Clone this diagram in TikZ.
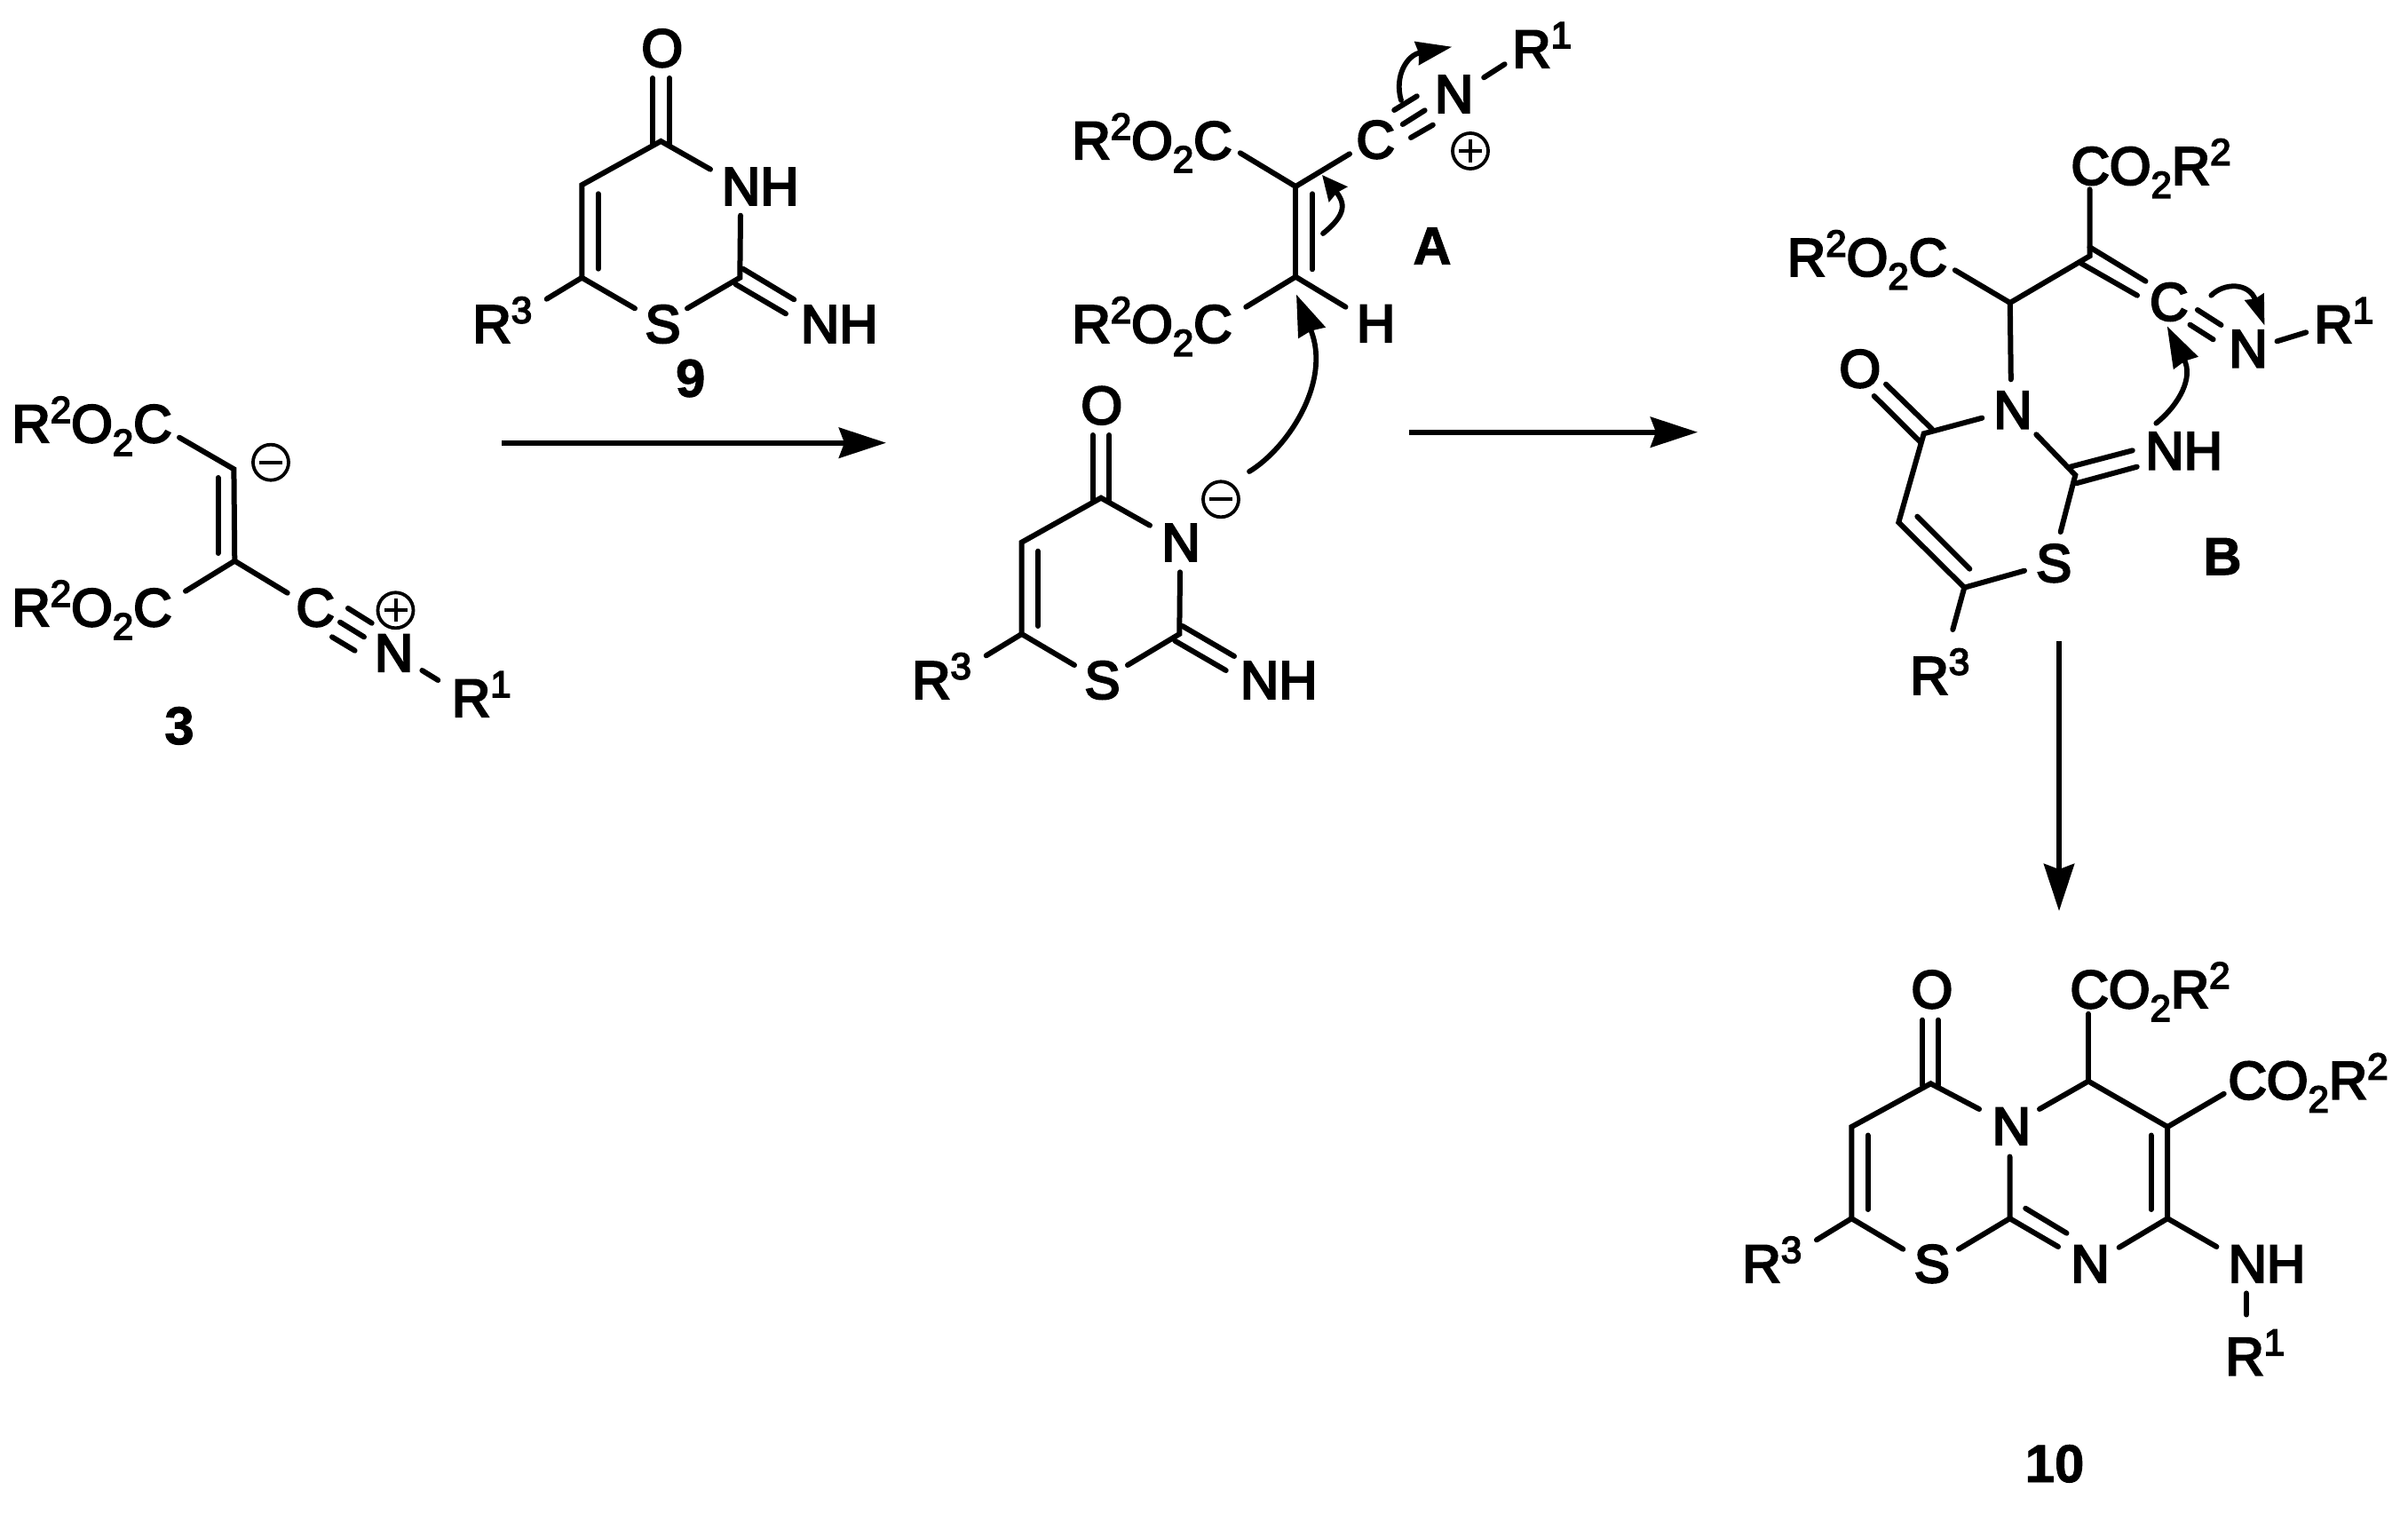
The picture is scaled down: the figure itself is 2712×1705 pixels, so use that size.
\documentclass[tikz,border=0pt]{standalone}
\usepackage{fontspec}
\usetikzlibrary{arrows.meta}
\setmainfont{Liberation Sans}
\newfontfamily\chemfont[FakeBold=4]{Liberation Sans}
\newfontfamily\chemboldfont[FakeBold=1.5]{Liberation Sans Bold}
\newcommand\supx[1]{\raisebox{22pt}{\fontsize{42}{42}\selectfont #1}}
\newcommand\subx[1]{\raisebox{-15pt}{\fontsize{42}{42}\selectfont #1}}
\newcommand\estL{R\supx{2}O\subx{2}C}
\newcommand\estR{CO\subx{2}R\supx{2}}
\tikzset{
  x=1pt,y=-1pt,
  lbl/.style={inner sep=0pt,outer sep=0pt,anchor=base west,xshift=1.5pt,font=\chemfont\fontsize{60}{60}\selectfont},
  lblc/.style={lbl,anchor=base,xshift=0pt},
  num/.style={inner sep=0pt,outer sep=0pt,anchor=base,font=\chemboldfont\fontsize{60}{60}\selectfont},
  bond/.style={draw=black,line width=6pt,line cap=round,line join=miter},
  rxn/.style={draw=black,line width=6.4pt,-{Stealth[length=53pt,width=34pt,inset=6pt]}},
  curly/.style n args={2}{draw=black,line width=5.8pt,line cap=round,-{Stealth[length=#1pt,width=#2pt,inset=2pt]}},
  chargering/.style={circle,draw=black,line width=3.8pt,minimum size=40pt,inner sep=0pt},
  pics/chargeminus/.style={code={
    \node[chargering] (-ring) at (0,0) {};
    \draw[line width=4pt] (-13,0) -- (13,0);}},
  pics/chargeplus/.style={code={
    \node[chargering] (-ring) at (0,0) {};
    \draw[line width=4pt] (-13,0) -- (13,0) (0,-13) -- (0,13);}},
}
\begin{document}
\begin{tikzpicture}
\path[fill=white,use as bounding box] (0,0) rectangle (2712,1705);

% ---- compound 3
\node[lbl] (t3a) at (12,498) {\estL};
\node[lbl] (t3b) at (12,705) {\estL};
\node[lbl] (t3c) at (332,705) {C};
\node[lbl] (t3n) at (420.5,756) {N};
\node[lbl] (t3r) at (507.5,807) {R\supx{1}};
\node[num] (n3) at (202,838) {3};
\coordinate (c3a) at (263.4,528.3);
\coordinate (c3b) at (264.3,631.7);
\draw[bond] (202,492.7) -- (c3a) -- (c3b) -- (209,665.7);
\draw[bond] (c3b) -- (323.7,667.7);
\draw[bond] (245.5,538) -- (245.5,623);
\draw[bond] (392,685) -- (418.7,701.7) (383,700.7) -- (410,717.3) (374,717.3) -- (399.6,732.7);
\draw[bond] (475.4,755) -- (493.3,766);
\pic (m3) at (305,520.7) {chargeminus};
\pic (p3) at (445.5,687.3) {chargeplus};

% ---- arrow 1
\coordinate (a1s) at (565,498.7);
\coordinate (a1e) at (998,498.7);
\draw[rxn] (a1s) -- (a1e);

% ---- compound 9
\node[lblc] (t9o) at (744.3,75) {O};
\node[lbl] (t9nh) at (811.5,230.7) {NH};
\node[lbl] (t9nh2) at (900.5,385.7) {NH};
\node[lblc] (t9s) at (745,385.7) {S};
\node[lbl] (t9r) at (531,385.7) {R\supx{3}};
\node[num] (n9) at (777.7,446.7) {9};
\coordinate (c94) at (744.3,159);
\coordinate (c95) at (655.3,208.3);
\coordinate (c96) at (655.3,312.7);
\coordinate (c92) at (833.3,312.7);
\draw[bond] (800,190.7) -- (c94) -- (c95) -- (c96) -- (715,347.3);
\draw[bond] (c96) -- (615.7,336.7);
\draw[bond] (774,347.3) -- (c92) -- (834,242.7);
\draw[bond] (735,88) -- (735,162) (754,88) -- (754,163);
\draw[bond] (673.7,218.3) -- (673.7,302.7);
\draw[bond] (836.7,302.7) -- (894.3,337.3) (828.3,320) -- (885,353.3);

% ---- cation A
\node[lbl] (tAa) at (1206,179) {\estL};
\node[lbl] (tAb) at (1206,385.7) {\estL};
\node[lbl] (tAc) at (1526,178) {C};
\node[lbl] (tAn) at (1614.5,126.7) {N};
\node[lbl] (tAr) at (1701.8,76) {R\supx{1}};
\node[lbl] (tAh) at (1526.5,385) {H};
\node[num] (nA) at (1613,297.7) {A};
\coordinate (cA1) at (1459.2,210);
\coordinate (cA2) at (1459.2,311.7);
\draw[bond] (1396.8,172.3) -- (cA1) -- (1520,173.3);
\draw[bond] (cA1) -- (cA2);
\draw[bond] (1403.3,345.7) -- (cA2) -- (1515.5,345.7);
\draw[bond] (1478,218.3) -- (1478,303.3);
\draw[bond] (1570.2,124) -- (1595.8,108.3) (1579.8,140) -- (1604.6,124.3) (1589,155) -- (1613.8,140.7);
\draw[bond] (1671.2,87.3) -- (1694.6,72.3);
\pic (pA) at (1656,170) {chargeplus};
\draw[curly={40}{26}] (1578,113) .. controls (1570,85) and (1585,62) .. (1635.3,52.7);
\draw[curly={28}{26}] (1490,263) .. controls (1512,245) and (1518,232) .. (1489,197);

% ---- anion
\node[lblc] (taO) at (1239.3,477.3) {O};
\node[lbl] (taN) at (1307,631.7) {N};
\node[lblc] (taS) at (1240,786.7) {S};
\node[lbl] (taH) at (1395.5,786.7) {NH};
\node[lbl] (taR) at (1025.7,786.7) {R\supx{3}};
\coordinate (ca4) at (1240,560.7);
\coordinate (ca5) at (1150.7,610.7);
\coordinate (ca6) at (1150.7,714);
\coordinate (ca2) at (1328.3,714);
\draw[bond] (1295,591.7) -- (ca4) -- (ca5) -- (ca6) -- (1210,749);
\draw[bond] (ca6) -- (1110.7,738.3);
\draw[bond] (1270,749) -- (ca2) -- (1329,644.3);
\draw[bond] (1230.7,490) -- (1230.7,563) (1249.3,490) -- (1249.3,563);
\draw[bond] (1169,620.7) -- (1169,705);
\draw[bond] (1331.7,705) -- (1390,739) (1323.3,721.7) -- (1380.7,755);
\pic (ma) at (1375,562.3) {chargeminus};
\draw[curly={46}{32}] (1407,531) .. controls (1450,505) and (1500,430) .. (1460,331.7);

% ---- arrow 2
\coordinate (a2s) at (1587,486.7);
\coordinate (a2e) at (1912,486.7);
\draw[rxn] (a2s) -- (a2e);

% ---- cation B
\node[lbl] (tBa) at (2331,207.7) {\estR};
\node[lbl] (tBb) at (2011.4,310.7) {\estL};
\node[lbl] (tBc) at (2419.6,360.7) {C};
\node[lbl] (tBn) at (2509,413.3) {N};
\node[lbl] (tBr) at (2605,386) {R\supx{1}};
\node[lbl] (tBN) at (2243.8,482.3) {N};
\node[lblc] (tBO) at (2093.3,436) {O};
\node[lblc] (tBS) at (2311.7,655) {S};
\node[lbl] (tBh) at (2414.8,528.3) {NH};
\node[lbl] (tBR) at (2150,781.7) {R\supx{3}};
\node[num] (nB) at (2503,647.3) {B};
\coordinate (cB1) at (2263.8,341);
\coordinate (cB2) at (2353.5,288.3);
\coordinate (cB3) at (2166.7,488.3);
\coordinate (cB4) at (2138.3,588.3);
\coordinate (cB5) at (2212.3,661.7);
\coordinate (cB6) at (2337.3,535);
\draw[bond] (2353.5,213.3) -- (cB2) -- (cB1) -- (2201.8,304.3);
\draw[bond] (cB1) -- (2264.8,427.3);
\draw[bond] (2353.5,278.3) -- (2416.5,316.7) (2344,296.7) -- (2407,332.7);
\draw[bond] (2474.9,349) -- (2501.5,366) (2466.5,365.7) -- (2492.6,382.3);
\draw[bond] (2564.5,384.3) -- (2597.2,374.3);
\draw[bond] (2124,432.7) -- (2176,483.3) (2110.7,446) -- (2163.3,498.3);
\draw[bond] (2232.3,470.7) -- (cB3) -- (cB4) -- (cB5) -- (2280,642.7);
\draw[bond] (cB5) -- (2199.3,709);
\draw[bond] (2159.3,581.7) -- (2218.3,640.7);
\draw[bond] (2293.3,489.3) -- (cB6) -- (2320.7,599);
\draw[bond] (2331.7,525.7) -- (2401.7,507.3) (2338.3,544.3) -- (2406.7,525.7);
\draw[curly={46}{30}] (2428.3,476.7) .. controls (2455,455) and (2470,425) .. (2440.7,367.3);
\draw[curly={34}{22}] (2490.3,332.7) .. controls (2505,318) and (2533,318) .. (2550.5,366.7);

% ---- arrow 3
\coordinate (a3s) at (2319,721.7);
\coordinate (a3e) at (2319,1026);
\draw[rxn] (a3s) -- (a3e);

% ---- compound 10
\node[lblc] (t0O) at (2174.4,1135) {O};
\node[lbl] (t0a) at (2330,1135) {\estR};
\node[lbl] (t0b) at (2508,1237.5) {\estR};
\node[lbl] (t0N) at (2242.2,1289) {N};
\node[lbl] (t0M) at (2330.9,1444) {N};
\node[lblc] (t0S) at (2174.4,1444) {S};
\node[lbl] (t0R) at (1961,1444) {R\supx{3}};
\node[lbl] (t0h) at (2508.1,1444) {NH};
\node[lbl] (t0r) at (2505,1548.3) {R\supx{1}};
\node[num] (n0) at (2314,1669) {10};
\coordinate (c04) at (2174.4,1220.3);
\coordinate (c05) at (2085.3,1269);
\coordinate (c06) at (2085.3,1372.2);
\coordinate (c0a) at (2263.5,1372.2);
\coordinate (c0h) at (2352,1217.6);
\coordinate (c0c) at (2441.2,1269);
\coordinate (c0d) at (2441.2,1372.2);
\draw[bond] (2229,1249) -- (c04) -- (c05) -- (c06) -- (2143.3,1406.7);
\draw[bond] (c06) -- (2045.9,1396.3);
\draw[bond] (2165,1148.7) -- (2165,1222) (2182.7,1148.7) -- (2182.7,1222);
\draw[bond] (2103.5,1278.5) -- (2103.5,1362);
\draw[bond] (2205.9,1406.7) -- (c0a) -- (2263.5,1302.6);
\draw[bond] (c0a) -- (2318,1404);
\draw[bond] (2281.2,1360.8) -- (2327.5,1388.7);
\draw[bond] (2297,1249) -- (c0h) -- (c0c) -- (c0d) -- (2386.6,1404.8);
\draw[bond] (c0h) -- (2352,1141.8);
\draw[bond] (c0c) -- (2504.7,1231.8);
\draw[bond] (2422.5,1278.5) -- (2422.5,1362);
\draw[bond] (c0d) -- (2496.4,1404);
\draw[bond] (2529.9,1456.4) -- (2529.9,1480.5);
\end{tikzpicture}
\end{document}
